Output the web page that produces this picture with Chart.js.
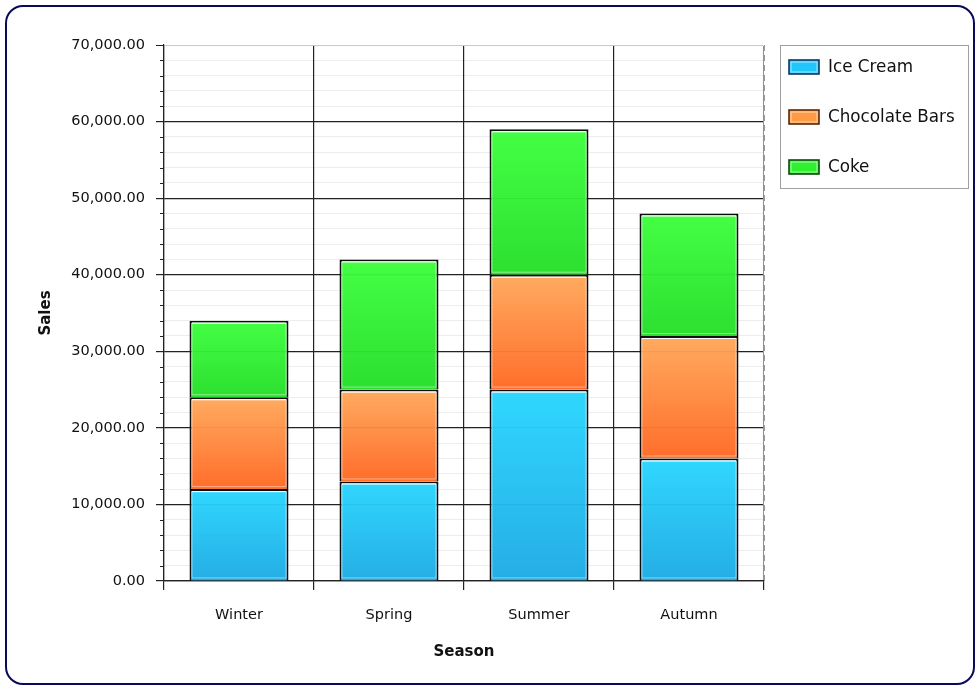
<!DOCTYPE html>
<html>
<head>
<meta charset="utf-8">
<script src="https://cdn.jsdelivr.net/npm/chart.js@4.4.1/dist/chart.umd.min.js"></script>
<style>
  html, body { margin: 0; padding: 0; background: #ffffff; }
  #wrap { position: relative; width: 980px; height: 687px; }
  #frame {
    position: absolute; left: 5px; top: 5px; width: 966px; height: 676px;
    border: 2px solid #0a0a5c; border-radius: 18px; pointer-events: none;
  }
  canvas { position: absolute; left: 0; top: 0; }
</style>
</head>
<body>
<div id="wrap">
  <canvas id="chart" width="980" height="687"></canvas>
  <div id="frame"></div>
</div>
<script>
// Seasonal sales, stacked by product
const seasons = ['Winter', 'Spring', 'Summer', 'Autumn'];
const seriesNames = ['Ice Cream', 'Chocolate Bars', 'Coke'];
const iceCream = [12000, 13000, 25000, 16000];
const chocolateBars = [12000, 12000, 15000, 16000];
const coke = [10000, 17000, 19000, 16000];
const yTickMax = 70000;
const yMajorStep = 10000;
const yMinorStep = 2000;

const seriesValues = [iceCream, chocolateBars, coke];
// top / bottom gradient stops and legend swatch colour per series
const palette = [
  { top: 'rgba(40,214,255,0.96)', bottom: 'rgba(28,170,228,0.96)', swatch: '#22c6fa', edge: '#0b3a66' },
  { top: 'rgba(255,168,90,0.96)', bottom: 'rgba(255,104,34,0.96)', swatch: '#ff9a45', edge: '#5a2a08' },
  { top: 'rgba(60,255,60,0.96)', bottom: 'rgba(36,222,40,0.96)', swatch: '#2ff02f', edge: '#0b4a0b' }
];

Chart.defaults.font.family = '"DejaVu Sans", Verdana, sans-serif';
Chart.defaults.color = '#111';

function stackStart(dsIndex, i) {
  let s = 0;
  for (let k = 0; k < dsIndex; k++) s += seriesValues[k][i];
  return s;
}

function barGradient(ctx) {
  const p = palette[ctx.datasetIndex];
  const chart = ctx.chart;
  if (ctx.type !== 'data' || !chart.chartArea || !chart.scales.y) return p.bottom;
  const y = chart.scales.y;
  const start = stackStart(ctx.datasetIndex, ctx.dataIndex);
  const end = start + seriesValues[ctx.datasetIndex][ctx.dataIndex];
  const yTop = y.getPixelForValue(end);
  const yBot = y.getPixelForValue(start);
  if (!isFinite(yTop) || !isFinite(yBot) || yTop === yBot) return p.bottom;
  const g = chart.ctx.createLinearGradient(0, yTop, 0, yBot);
  g.addColorStop(0, p.top);
  g.addColorStop(1, p.bottom);
  return g;
}

// dashed right edge of the plot, short minor ticks, bar highlights and the legend panel
const plotDecor = {
  id: 'plotDecor',
  beforeDatasetsDraw(chart) {
    const { ctx, chartArea } = chart;
    const y = chart.scales.y;
    ctx.save();
    ctx.fillStyle = '#fff';
    ctx.fillRect(chartArea.right - 0.5, chartArea.top - 1, 2.5, chartArea.bottom - chartArea.top);
    ctx.strokeStyle = '#9a9a9a';
    ctx.lineWidth = 1;
    ctx.setLineDash([6, 4]);
    ctx.beginPath();
    ctx.moveTo(chartArea.right + 0.5, chartArea.top);
    ctx.lineTo(chartArea.right + 0.5, chartArea.bottom);
    ctx.stroke();
    ctx.setLineDash([]);
    ctx.strokeStyle = '#222';
    for (let v = yMinorStep; v < yTickMax; v += yMinorStep) {
      if (v % yMajorStep === 0) continue;
      const py = Math.round(y.getPixelForValue(v)) + 0.5;
      ctx.beginPath();
      ctx.moveTo(chartArea.left - 4, py);
      ctx.lineTo(chartArea.left, py);
      ctx.stroke();
    }
    ctx.restore();
  },
  afterDatasetsDraw(chart) {
    const { ctx } = chart;
    ctx.save();
    ctx.lineWidth = 1;
    chart.data.datasets.forEach((ds, di) => {
      chart.getDatasetMeta(di).data.forEach(el => {
        const { x, y, base, width } = el.getProps(['x', 'y', 'base', 'width'], true);
        const l = x - width / 2 + 2.5, r = x + width / 2 - 2.5;
        const t = Math.min(y, base) + 2.5, b = Math.max(y, base) - 2.5;
        ctx.strokeStyle = 'rgba(255,255,255,0.45)';
        ctx.beginPath();
        ctx.rect(l, t, r - l, b - t);
        ctx.stroke();
        ctx.strokeStyle = 'rgba(255,255,255,0.95)';
        ctx.beginPath();
        ctx.moveTo(l, t);
        ctx.lineTo(r, t);
        ctx.stroke();
      });
    });
    ctx.restore();
  },
  afterDraw(chart) {
    const { ctx } = chart;
    const bx = 780, by = 45, bw = 188, bh = 143;
    ctx.save();
    ctx.fillStyle = '#fff';
    ctx.fillRect(bx, by, bw, bh);
    ctx.strokeStyle = '#a0a0a0';
    ctx.lineWidth = 1;
    ctx.strokeRect(bx + 0.5, by + 0.5, bw, bh);
    ctx.font = '16.8px "DejaVu Sans", Verdana, sans-serif';
    ctx.textBaseline = 'middle';
    seriesNames.forEach((name, i) => {
      const cy = by + 22 + i * 50;
      const p = palette[i];
      ctx.fillStyle = p.swatch;
      ctx.fillRect(789, cy - 7, 30, 14);
      ctx.strokeStyle = p.edge;
      ctx.lineWidth = 1.6;
      ctx.strokeRect(789, cy - 7, 30, 14);
      ctx.strokeStyle = 'rgba(255,255,255,0.6)';
      ctx.lineWidth = 1;
      ctx.strokeRect(791, cy - 5, 26, 10);
      ctx.fillStyle = '#111';
      ctx.fillText(name, 828, cy + 1);
    });
    ctx.restore();
  }
};

const datasets = seriesNames.map((name, i) => ({
  label: name,
  data: seriesValues[i],
  backgroundColor: barGradient,
  borderColor: '#0d0d0d',
  borderWidth: 2,
  barPercentage: 0.66,
  categoryPercentage: 1.0
}));

new Chart(document.getElementById('chart'), {
  type: 'bar',
  data: { labels: seasons, datasets },
  options: {
    responsive: false,
    animation: false,
    layout: { padding: { top: 45, right: 216, bottom: 0, left: 0 } },
    plugins: { legend: { display: false }, tooltip: { enabled: false } },
    scales: {
      x: {
        stacked: true,
        afterFit(scale) { scale.height = 106; },
        grid: {
          offset: true,
          color: (c) => (c.index === seasons.length ? 'rgba(0,0,0,0)' : '#222'),
          lineWidth: 1.2,
          tickColor: '#222',
          tickLength: 9
        },
        border: { display: true, color: '#222', width: 1.2 },
        ticks: { padding: 17, font: { size: 14.5 }, color: '#111' },
        title: {
          display: true, text: 'Season',
          font: { size: 15, weight: 'bold' }, color: '#111',
          padding: { top: 0, bottom: 26 }
        }
      },
      y: {
        stacked: true,
        min: 0,
        max: yTickMax,
        afterFit(scale) { scale.width = 164; },
        grid: {
          color: (c) => {
            const v = c.tick ? c.tick.value : 0;
            if (v === yTickMax) return '#c9c9c9';
            return v % yMajorStep === 0 ? '#222' : 'rgba(0,0,0,0.07)';
          },
          lineWidth: (c) => (c.tick && c.tick.value % yMajorStep === 0 && c.tick.value !== yTickMax ? 1.2 : 1),
          tickColor: (c) => (c.tick && c.tick.value % yMajorStep === 0 ? '#222' : 'rgba(0,0,0,0)'),
          tickLength: 8
        },
        border: { display: true, color: '#222', width: 1.2 },
        ticks: {
          stepSize: yMinorStep,
          autoSkip: false,
          padding: 11,
          font: { size: 14.5 },
          color: '#111',
          callback: (v) => (v % yMajorStep === 0
            ? Number(v).toLocaleString('en-US', { minimumFractionDigits: 2, maximumFractionDigits: 2 })
            : '')
        },
        title: {
          display: true, text: 'Sales',
          font: { size: 15, weight: 'bold' }, color: '#111',
          padding: { top: 37, bottom: 0 }
        }
      }
    }
  },
  plugins: [plotDecor]
});
</script>
</body>
</html>
